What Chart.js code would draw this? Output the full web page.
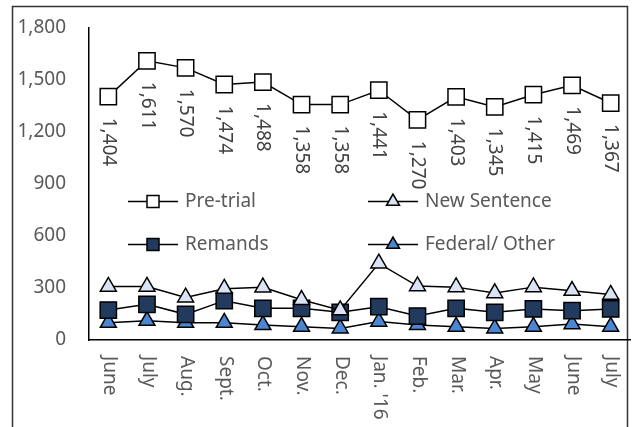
<!DOCTYPE html>
<html>
<head>
<meta charset="utf-8">
<script src="https://cdn.jsdelivr.net/npm/chart.js@4/dist/chart.umd.min.js"></script>
<style>
html,body{margin:0;padding:0;background:#fff;}
#wrap{position:relative;width:632px;height:427px;overflow:hidden;}
canvas{display:block;}
</style>
</head>
<body>
<div id="wrap"><canvas id="c" width="632" height="427"></canvas></div>
<script>
const categories = ["June","July","Aug.","Sept.","Oct.","Nov.","Dec.","Jan. '16","Feb.","Mar.","Apr.","May","June","July"];
const preTrial = [1404,1611,1570,1474,1488,1358,1358,1441,1270,1403,1345,1415,1469,1367];
const newSentence = [308,308,246,296,304,232,172,442,311,305,271,305,284,262];
const remands = [173,206,148,227,183,183,160,192,138,183,160,179,169,179];
const federalOther = [100,111,100,100,87,77,67,106,87,77,67,77,92,77];
const yTicks = [0,300,600,900,1200,1500,1800];

const FONT = '"Noto Sans", sans-serif';
const FS = 19;
const fmt = v => v.toLocaleString('en-US');

function drawMarker(ctx, style, x, y, r, fill) {
  ctx.save();
  ctx.beginPath();
  if (style === 'rect') {
    const s = Math.SQRT1_2 * r;
    ctx.rect(x - s, y - s, 2 * s, 2 * s);
  } else {
    ctx.moveTo(x, y - r);
    ctx.lineTo(x + r * Math.sin(2*Math.PI/3), y - r * Math.cos(2*Math.PI/3));
    ctx.lineTo(x + r * Math.sin(4*Math.PI/3), y - r * Math.cos(4*Math.PI/3));
    ctx.closePath();
  }
  ctx.fillStyle = fill;
  ctx.fill();
  ctx.lineWidth = 1.5;
  ctx.strokeStyle = '#000';
  ctx.stroke();
  ctx.restore();
}

const customPlugin = {
  id: 'custom',
  beforeDraw(chart) {
    const ctx = chart.ctx;
    ctx.save();
    ctx.strokeStyle = '#333';
    ctx.lineWidth = 1.5;
    ctx.strokeRect(12.5, 6.5, 615, 500);
    ctx.restore();
  },
  afterDraw(chart) {
    const ctx = chart.ctx;
    const xs = chart.scales.x;
    const ca = chart.chartArea;
    ctx.save();
    ctx.font = FS + 'px ' + FONT;
    ctx.fillStyle = '#595959';
    ctx.textAlign = 'left';
    ctx.textBaseline = 'middle';
    categories.forEach((c, i) => {
      const x = xs.getPixelForValue(i);
      ctx.save();
      ctx.translate(x + 1, ca.bottom + 16);
      ctx.rotate(Math.PI / 2);
      ctx.fillText(c, 0, 0);
      ctx.restore();
    });
    ctx.restore();
    const meta = chart.getDatasetMeta(0);
    ctx.save();
    ctx.font = FS + 'px ' + FONT;
    ctx.fillStyle = '#404040';
    ctx.textAlign = 'left';
    ctx.textBaseline = 'middle';
    meta.data.forEach((pt, i) => {
      ctx.save();
      ctx.translate(pt.x, pt.y + 21);
      ctx.rotate(Math.PI / 2);
      ctx.fillText(fmt(preTrial[i]), 0, 0);
      ctx.restore();
    });
    ctx.restore();
    const items = [
      {ds: 0, x: 128, y: 201.5},
      {ds: 1, x: 368, y: 201.5},
      {ds: 2, x: 128, y: 244.5},
      {ds: 3, x: 368, y: 244.5}
    ];
    ctx.save();
    ctx.font = FS + 'px ' + FONT;
    ctx.textAlign = 'left';
    ctx.textBaseline = 'middle';
    items.forEach(it => {
      const d = chart.data.datasets[it.ds];
      ctx.beginPath();
      ctx.moveTo(it.x, it.y);
      ctx.lineTo(it.x + 50, it.y);
      ctx.strokeStyle = '#000';
      ctx.lineWidth = 1.5;
      ctx.stroke();
      drawMarker(ctx, d.pointStyle, it.x + 25, it.y, d.pointStyle === 'rect' ? 8.5 : 7.5, d.pointBackgroundColor);
      ctx.fillStyle = '#595959';
      ctx.fillText(d.label, it.x + 57, it.y);
    });
    ctx.restore();
  }
};

const mk = (label, data, style, fill, r) => ({
  label, data,
  borderColor: '#000', borderWidth: 1.5,
  pointStyle: style, pointRadius: r, pointHoverRadius: r,
  pointBackgroundColor: fill, pointBorderColor: '#000', pointBorderWidth: 1.5,
  tension: 0, fill: false
});

new Chart(document.getElementById('c'), {
  type: 'line',
  data: {
    labels: categories,
    datasets: [
      mk('Pre-trial', preTrial, 'rect', '#ffffff', 11.5),
      mk('New Sentence', newSentence, 'triangle', '#dae3f3', 9.2),
      mk('Remands', remands, 'rect', '#223a5e', 11.5),
      mk('Federal/ Other', federalOther, 'triangle', '#4a86d1', 9.2)
    ]
  },
  options: {
    responsive: false,
    animation: false,
    devicePixelRatio: 1,
    layout: {autoPadding: false, padding: {top: 28, right: 2, left: 0, bottom: 0}},
    plugins: {legend: {display: false}, tooltip: {enabled: false}},
    scales: {
      x: {
        offset: true,
        grid: {display: false, drawTicks: false},
        border: {display: true, color: '#000', width: 1.5},
        ticks: {display: false},
        afterFit(s) { s.height = 87; s.paddingLeft = 0; s.paddingRight = 0; }
      },
      y: {
        min: 0, max: 1800,
        afterBuildTicks(s) { s.ticks = yTicks.map(v => ({value: v})); },
        grid: {display: false, drawTicks: false},
        border: {display: true, color: '#000', width: 1.5},
        ticks: {
          padding: 23,
          color: '#595959',
          font: {family: FONT, size: FS},
          callback: v => fmt(v)
        },
        afterFit(s) { s.width = 89; s.paddingTop = 0; s.paddingBottom = 0; }
      }
    }
  },
  plugins: [customPlugin]
});
</script>
</body>
</html>
